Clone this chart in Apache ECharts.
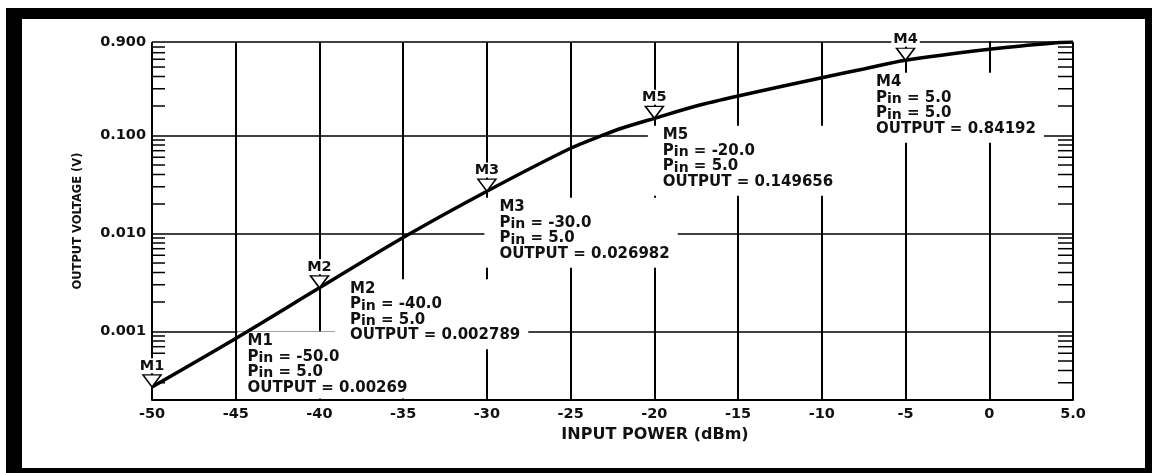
<!DOCTYPE html>
<html><head><meta charset="utf-8">
<script src="https://cdn.jsdelivr.net/npm/echarts@6/dist/echarts.min.js"></script>
<style>html,body{margin:0;padding:0;background:#fff;overflow:hidden}#c{width:1152px;height:473px}</style>
</head><body><div id="c"></div>
<script>
// ---- data ----
const powerIn  = [-50, -45, -40, -35, -30, -25, -23, -22, -20, -17.5, -15, -10, -7.5, -5, 0, 4, 5];
const outputV  = [0.000272, 0.00085, 0.00279, 0.0091, 0.027, 0.0741, 0.102, 0.118, 0.1497, 0.2, 0.253, 0.389, 0.477, 0.586, 0.758, 0.885, 0.9];
const xTickLabels = ['-50','-45','-40','-35','-30','-25','-20','-15','-10','-5','0','5.0'];
const yTickValues = [0.001, 0.01, 0.1, 0.9];
const yTickLabels = ['0.001','0.010','0.100','0.900'];
const yMinorTicks = [0.0003,0.0004,0.0005,0.0006,0.0007,0.0008,0.0009,
                     0.002,0.003,0.004,0.005,0.006,0.007,0.008,0.009,
                     0.02,0.03,0.04,0.05,0.06,0.07,0.08,0.09,
                     0.2,0.3,0.4,0.5,0.6,0.7,0.8];
const markerNames  = ['M1','M2','M3','M5','M4'];
const markerX      = [-50, -40, -30, -20, -5];
const markerY      = [0.000272, 0.00279, 0.027, 0.1497, 0.586];
const markerPin    = ['-50.0','-40.0','-30.0','-20.0','5.0'];
const markerPin2   = ['5.0','5.0','5.0','5.0','5.0'];
const markerOutput = ['0.00269','0.002789','0.026982','0.149656','0.84192'];
const xMin = -50, xMax = 5, yMin = 0.0002, yMax = 0.9;

// ---- styles ----
const FONT = 'DejaVu Sans';
const INK = '#111';
const annotOffsets  = [[86,-55],[16,-8],[-2,7],[-6,8],[-44,13]];
const annotPaddings = [[2,8,3,10],[2,8,6,15],[2,8,6,15],[2,30,6,15],[2,8,6,15]];

const chart = echarts.init(document.getElementById('c'), null, {renderer:'canvas'});
const curve = powerIn.map((x,i)=>[x, outputV[i]]);
const markers = markerX.map((x,i)=>({name:markerNames[i], value:[x, markerY[i]]}));
const annots = markerX.map((x,i)=>({
  name:markerNames[i], value:[x, markerY[i]],
  label:{position:annotOffsets[i], padding:annotPaddings[i]},
  pin:markerPin[i], pin2:markerPin2[i], out:markerOutput[i]
}));

chart.setOption({
  animation:false,
  backgroundColor:'#fff',
  graphic:[
    {type:'rect', shape:{x:6,y:8,width:16,height:465}, style:{fill:'#000'}, silent:true},
    {type:'rect', shape:{x:6,y:8,width:1146,height:11}, style:{fill:'#000'}, silent:true},
    {type:'rect', shape:{x:1145,y:8,width:7,height:465}, style:{fill:'#000'}, silent:true},
    {type:'rect', shape:{x:6,y:468,width:1146,height:5}, style:{fill:'#000'}, silent:true}
  ],
  grid:{left:152, top:42, right:79, bottom:73, containLabel:false},
  xAxis:{
    type:'value', min:xMin, max:xMax, interval:5,
    name:'INPUT POWER (dBm)', nameLocation:'middle', nameGap:22,
    nameTextStyle:{fontFamily:FONT, fontWeight:'bold', fontSize:16, color:INK, padding:[0,0,0,85]},
    axisLine:{show:true, onZero:false, lineStyle:{color:'#000', width:2}},
    axisTick:{show:false},
    axisLabel:{fontFamily:FONT, fontWeight:'bold', fontSize:14.5, color:INK, margin:7,
      formatter:v=>xTickLabels[Math.round((v-xMin)/5)] ?? ''},
    splitLine:{show:true, lineStyle:{color:'#000', width:2}}
  },
  yAxis:{
    type:'log', logBase:10, min:yMin, max:yMax,
    name:'OUTPUT VOLTAGE (V)', nameLocation:'middle', nameGap:68,
    nameTextStyle:{fontFamily:FONT, fontWeight:'bold', fontSize:11.5, color:INK},
    axisLine:{show:true, lineStyle:{color:'#000', width:2}},
    axisTick:{show:false},
    axisLabel:{fontFamily:FONT, fontWeight:'bold', fontSize:14.5, color:INK, margin:6,
      showMinLabel:true, showMaxLabel:true,
      formatter:v=>{
        const k = yTickValues.findIndex(t=>Math.abs(Math.log10(t)-Math.log10(v))<1e-4);
        return k>=0 ? yTickLabels[k] : '';
      }},
    splitLine:{show:true, lineStyle:{color:'#000', width:1.5}}
  },
  series:[
    {
      type:'custom', z:1, silent:true,
      data:yMinorTicks.map(v=>[xMin, v]),
      encode:{x:0, y:1},
      renderItem:(params, api)=>{
        const v = api.value(1);
        const a = api.coord([xMin, v]);
        const b = api.coord([xMax, v]);
        const st = {stroke:'#000', lineWidth:1.5};
        return {type:'group', children:[
          {type:'line', shape:{x1:a[0], y1:a[1], x2:a[0]+13, y2:a[1]}, style:st},
          {type:'line', shape:{x1:b[0]-15, y1:b[1], x2:b[0], y2:b[1]}, style:st}
        ]};
      }
    },
    {
      type:'scatter', z:2, silent:true,
      data:annots, symbolSize:1, itemStyle:{color:'rgba(0,0,0,0)', opacity:1},
      label:{
        show:true, align:'left', verticalAlign:'top',
        backgroundColor:'#fff',
        formatter:p=>{
          const d = p.data;
          return `{t|${d.name}}\n{t|P}{s|in}{t| = ${d.pin}}\n{t|P}{s|in}{t| = ${d.pin2}}\n{t|OUTPUT = ${d.out}}`;
        },
        rich:{
          t:{fontFamily:FONT, fontWeight:'bold', fontSize:15, color:INK, lineHeight:15.5},
          s:{fontFamily:FONT, fontWeight:'bold', fontSize:14, color:INK, lineHeight:15.5, padding:[3,0,0,0]}
        }
      }
    },
    {
      type:'line', z:3, silent:true,
      data:curve, smooth:0.3, showSymbol:false,
      lineStyle:{color:'#000', width:3.5}
    },
    {
      type:'scatter', z:4, silent:true,
      data:markers,
      symbol:'path://M0,0L18,0L9,12Z', symbolSize:[18,12], symbolOffset:[0,'-50%'],
      itemStyle:{color:'#fff', borderColor:'#000', borderWidth:1.5, opacity:1},
      label:{show:true, position:'top', distance:1, formatter:'{b}',
        fontFamily:FONT, fontWeight:'bold', fontSize:14.5, color:INK, lineHeight:14,
        backgroundColor:'#fff', padding:[1,2,0,2]}
    }
  ]
});
</script></body></html>
